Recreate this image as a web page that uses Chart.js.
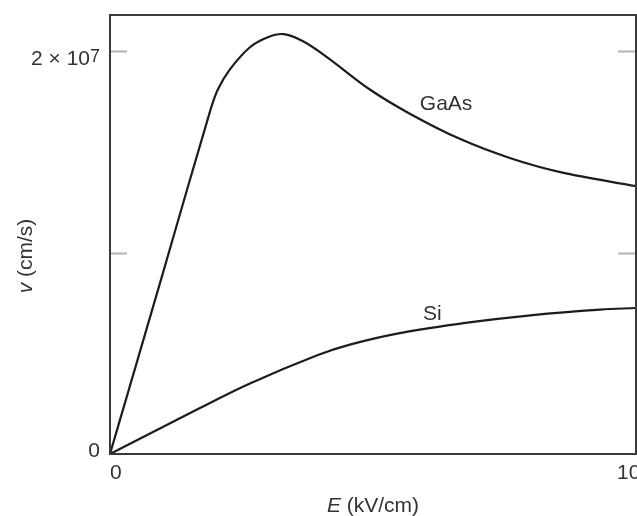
<!DOCTYPE html>
<html lang="en">
<head>
  <meta charset="UTF-8">
  <title>Drift velocity vs field</title>
  <script src="https://cdn.jsdelivr.net/npm/chart.js"></script>
  <style>
    body { margin: 0; background: #fff; }
    #wrap { width: 637px; height: 516px; }
  </style>
</head>
<body>
  <div id="wrap"><canvas id="velChart" width="637" height="516"></canvas></div>

  <script>
    // field strength E (kV/cm) and drift velocity v (cm/s)
    const gaasE = [0, 1.0, 1.9, 2.05, 2.28, 2.66, 3.0, 3.3, 3.67, 4.13, 4.94, 5.70, 6.65, 7.60, 8.56, 10];
    const gaasV = [0, 0.893e7, 1.70e7, 1.81e7, 1.91e7, 2.02e7, 2.07e7, 2.085e7, 2.05e7, 1.97e7, 1.81e7, 1.69e7, 1.565e7, 1.47e7, 1.40e7, 1.33e7];
    const siE = [0, 1.71, 2.66, 3.94, 4.56, 5.51, 6.79, 8.04, 9.32, 10];
    const siV = [0, 0.228e7, 0.35e7, 0.49e7, 0.543e7, 0.60e7, 0.652e7, 0.69e7, 0.717e7, 0.725e7];

    const yTicks = [1e7, 2e7];          // inner tick marks, both sides
    const xTickLabels = ['0', '10'];
    const xTickValues = [0, 10];

    // where the curve names sit (data coords, left/baseline of text)
    const seriesLabels = [
      { text: 'GaAs', e: 5.89, v: 1.707e7 },
      { text: 'Si', e: 5.95, v: 0.665e7 }
    ];

    const FONT = '"Liberation Sans", Arial, sans-serif';
    const TEXT = '#333';

    function toPoints(xs, ys) {
      return xs.map((x, i) => ({ x: x, y: ys[i] }));
    }

    const framePlugin = {
      id: 'frame',
      afterDraw(chart) {
        const ctx = chart.ctx;
        const a = chart.chartArea;
        const xs = chart.scales.x, ys = chart.scales.y;
        ctx.save();

        // inner tick marks
        ctx.strokeStyle = '#b4b4b4';
        ctx.lineWidth = 2;
        yTicks.forEach(v => {
          const py = Math.round(ys.getPixelForValue(v)) + 0.5;
          ctx.beginPath();
          ctx.moveTo(a.left, py); ctx.lineTo(a.left + 17, py);
          ctx.moveTo(a.right, py); ctx.lineTo(a.right - 18, py);
          ctx.stroke();
        });

        // box
        ctx.strokeStyle = '#3a3a3a';
        ctx.lineWidth = 2;
        ctx.strokeRect(a.left, a.top, a.right - a.left, a.bottom - a.top);

        ctx.fillStyle = TEXT;
        ctx.font = '21px ' + FONT;

        // y tick labels
        ctx.textAlign = 'right';
        ctx.textBaseline = 'alphabetic';
        ctx.fillText('0', a.left - 10, ys.getPixelForValue(0) + 3);
        const y2 = ys.getPixelForValue(2e7);
        ctx.font = '18px ' + FONT;
        ctx.fillText('7', a.left - 10, y2 + 11);
        const w7 = ctx.measureText('7').width;
        ctx.font = '21px ' + FONT;
        ctx.fillText('2 \u00d7 10', a.left - 10 - w7, y2 + 14);

        // x tick labels
        ctx.textAlign = 'left';
        ctx.fillText(xTickLabels[0], xs.getPixelForValue(xTickValues[0]), 479);
        ctx.fillText(xTickLabels[1], xs.getPixelForValue(xTickValues[1]) - 19, 479);

        // curve names
        seriesLabels.forEach(l => {
          ctx.fillText(l.text, xs.getPixelForValue(l.e), ys.getPixelForValue(l.v));
        });

        // x title: italic E + (kV/cm)
        const cx = (a.left + a.right) / 2;
        ctx.font = 'italic 21px ' + FONT;
        const wE = ctx.measureText('E').width;
        ctx.font = '21px ' + FONT;
        const wRest = ctx.measureText(' (kV/cm)').width;
        let sx = cx - (wE + wRest) / 2;
        ctx.font = 'italic 21px ' + FONT;
        ctx.fillText('E', sx, 512);
        ctx.font = '21px ' + FONT;
        ctx.fillText(' (kV/cm)', sx + wE, 512);

        // y title, rotated
        ctx.translate(32, 256);
        ctx.rotate(-Math.PI / 2);
        ctx.font = 'italic 21px ' + FONT;
        const wv = ctx.measureText('v').width;
        ctx.font = '21px ' + FONT;
        const wr = ctx.measureText(' (cm/s)').width;
        sx = -(wv + wr) / 2;
        ctx.font = 'italic 21px ' + FONT;
        ctx.fillText('v', sx, 0);
        ctx.font = '21px ' + FONT;
        ctx.fillText(' (cm/s)', sx + wv, 0);

        ctx.restore();
      }
    };

    const lineStyle = {
      borderColor: '#1c1c1c',
      borderWidth: 2.2,
      pointRadius: 0,
      fill: false,
      tension: 0.35
    };

    new Chart(document.getElementById('velChart'), {
      type: 'line',
      data: {
        datasets: [
          Object.assign({ label: 'GaAs', data: toPoints(gaasE, gaasV) }, lineStyle),
          Object.assign({ label: 'Si', data: toPoints(siE, siV) }, lineStyle)
        ]
      },
      options: {
        responsive: false,
        animation: false,
        devicePixelRatio: 1,
        layout: { padding: { left: 110, top: 15, right: 1, bottom: 62 } },
        plugins: { legend: { display: false }, tooltip: { enabled: false } },
        scales: {
          x: { type: 'linear', min: 0, max: 10, display: false },
          y: { type: 'linear', min: 0, max: 2.18e7, display: false }
        }
      },
      plugins: [framePlugin]
    });
  </script>
</body>
</html>
